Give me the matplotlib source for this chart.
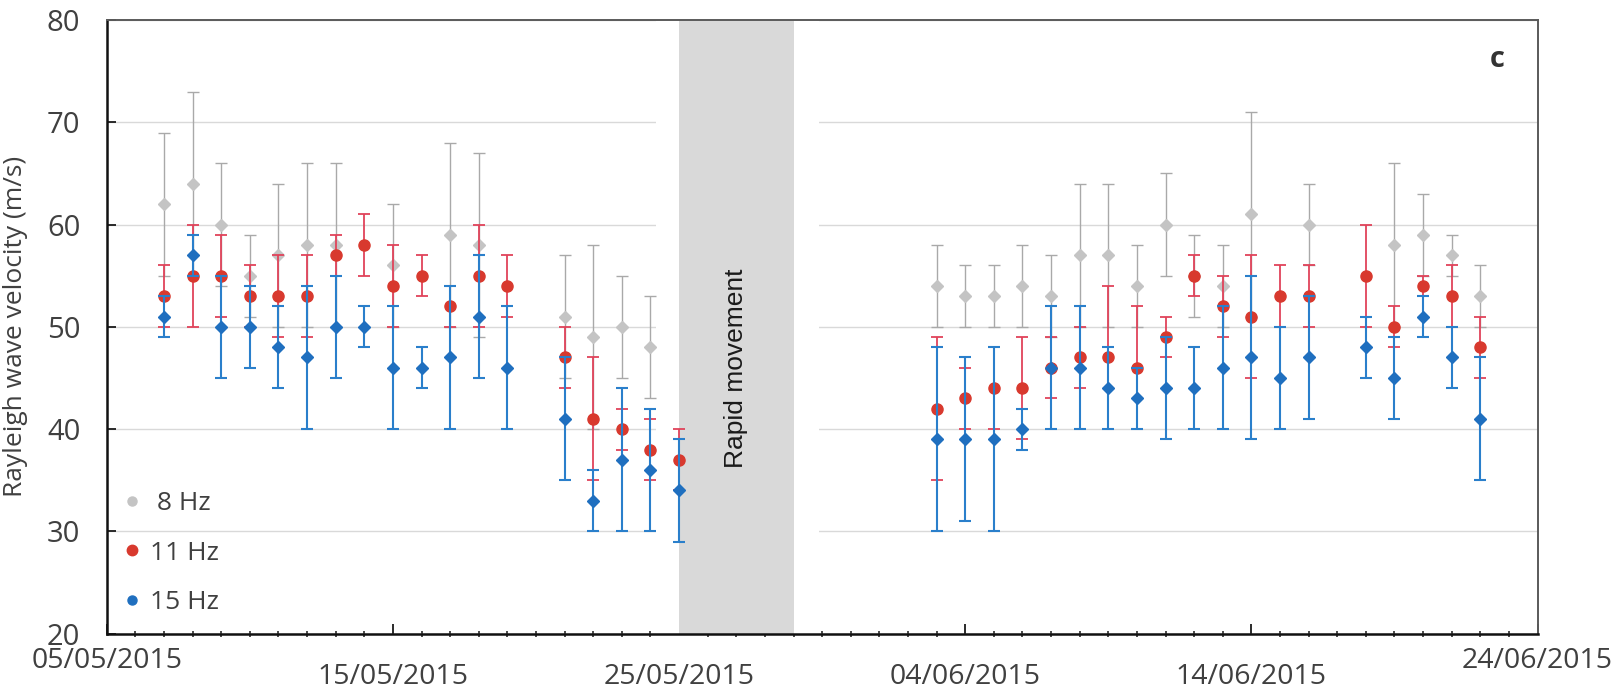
"""Rayleigh wave velocity per day for three frequencies, with the rapid-movement gap."""

import numpy as np
import pandas as pd
import matplotlib
matplotlib.use('Agg')
import matplotlib.pyplot as plt
import matplotlib.dates as mdates
from matplotlib.lines import Line2D
from matplotlib.transforms import blended_transform_factory

plt.rcParams.update({
    'font.family': ['Open Sans', 'DejaVu Sans'],
    'font.size': 19,
})

nan = np.nan

DATES = [
    '07/05/2015', '08/05/2015', '09/05/2015', '10/05/2015', '11/05/2015',
    '12/05/2015', '13/05/2015', '14/05/2015', '15/05/2015', '16/05/2015',
    '17/05/2015', '18/05/2015', '19/05/2015',
    '21/05/2015', '22/05/2015', '23/05/2015', '24/05/2015', '25/05/2015',
    '03/06/2015', '04/06/2015', '05/06/2015', '06/06/2015', '07/06/2015',
    '08/06/2015', '09/06/2015', '10/06/2015', '11/06/2015', '12/06/2015',
    '13/06/2015', '14/06/2015', '15/06/2015', '16/06/2015',
    '18/06/2015', '19/06/2015', '20/06/2015', '21/06/2015', '22/06/2015',
]

# 8 Hz
V8 = [62, 64, 60, 55, 57, 58, 58, nan, 56, nan, 59, 58, nan,
      51, 49, 50, 48, nan,
      54, 53, 53, 54, 53, 57, 57, 54, 60, 55, 54, 61, nan, 60,
      nan, 58, 59, 57, 53]
E8 = [7, 9, 6, 4, 7, 8, 8, nan, 6, nan, 9, 9, nan,
      6, 9, 5, 5, nan,
      4, 3, 3, 4, 4, 7, 7, 4, 5, 4, 4, 10, nan, 4,
      nan, 8, 4, 2, 3]

# 11 Hz
V11 = [53, 55, 55, 53, 53, 53, 57, 58, 54, 55, 52, 55, 54,
       47, 41, 40, 38, 37,
       42, 43, 44, 44, 46, 47, 47, 46, 49, 55, 52, 51, 53, 53,
       55, 50, 54, 53, 48]
E11 = [3, 5, 4, 3, 4, 4, 2, 3, 4, 2, 2, 5, 3,
       3, 6, 2, 3, 3,
       7, 3, 4, 5, 3, 3, 7, 6, 2, 2, 3, 6, 3, 3,
       5, 2, 1, 3, 3]

# 15 Hz
V15 = [51, 57, 50, 50, 48, 47, 50, 50, 46, 46, 47, 51, 46,
       41, 33, 37, 36, 34,
       39, 39, 39, 40, 46, 46, 44, 43, 44, 44, 46, 47, 45, 47,
       48, 45, 51, 47, 41]
E15 = [2, 2, 5, 4, 4, 7, 5, 2, 6, 2, 7, 6, 6,
       6, 3, 7, 6, 5,
       9, 8, 9, 2, 6, 6, 4, 3, 5, 4, 6, 8, 5, 6,
       3, 4, 2, 3, 6]

BAND_START = '25/05/2015'
BAND_END = '29/05/2015'
X_START = '05/05/2015'
X_END = '24/06/2015'
Y_TICKS = [20, 30, 40, 50, 60, 70, 80]

TEXT_COLOR = '#404040'


def to_dt(s):
    return pd.to_datetime(s, format='%d/%m/%Y')


def main():
    x = to_dt(pd.Series(DATES)).dt.to_pydatetime()

    fig = plt.figure(figsize=(16.2, 6.93), dpi=100)
    ax = fig.add_axes([0.0659, 0.0857, 0.8832, 0.8854])

    b0, b1 = to_dt(BAND_START), to_dt(BAND_END)
    # white margin that cuts the gridlines around the shaded band
    ax.axvspan(b0 - pd.Timedelta(hours=19), b1 + pd.Timedelta(hours=21),
               color='white', lw=0, zorder=0.8)
    ax.axvspan(b0, b1, color='#d9d9d9', lw=0, zorder=0.9)
    trans = blended_transform_factory(ax.transData, ax.transAxes)
    ax.text(mdates.date2num(b0 + (b1 - b0) / 2), 0.432, 'Rapid movement',
            transform=trans, rotation=90, ha='center', va='center',
            fontsize=19, family='Liberation Sans', color='#1a1a1a',
            zorder=1)

    series = [
        (V8, E8, 'D', 6.2, '#c4c4c4', '#a9a9a9', '#a0a0a0', 1.0),
        (V11, E11, 'o', 8.0, '#d8392e', '#e0435a', '#e0435a', 1.3),
        (V15, E15, 'D', 6.2, '#1f6fbf', '#2a7fcb', '#2e6089', 1.5),
    ]
    for i, (v, e, mk, ms, mc, ec, cc, lw) in enumerate(series):
        _, caps, _ = ax.errorbar(x, v, yerr=e, fmt=mk, ms=ms, color=mc,
                                 mec=mc, ecolor=ec, elinewidth=lw,
                                 capsize=4, capthick=lw, zorder=3 + i)
        for c in caps:
            c.set_color(cc)

    ax.set_xlim(to_dt(X_START), to_dt(X_END))
    ax.set_ylim(20, 80)
    ax.set_yticks(Y_TICKS)

    major = pd.date_range(to_dt(X_START), to_dt(X_END), freq='10D')
    minor = pd.date_range(to_dt(X_START), to_dt(X_END), freq='1D')
    ax.set_xticks(major.to_pydatetime())
    ax.set_xticks(minor.to_pydatetime(), minor=True)
    ax.xaxis.set_major_formatter(mdates.DateFormatter('%d/%m/%Y'))

    ax.tick_params(axis='x', which='major', direction='in', length=7,
                   width=1.3, color='#1a1a1a', labelsize=20.5,
                   labelcolor=TEXT_COLOR)
    ax.tick_params(axis='x', which='minor', direction='inout', length=5,
                   width=1.1, color='#1a1a1a')
    ax.tick_params(axis='y', which='major', direction='in', length=6.5,
                   width=1.3, color='#1a1a1a', pad=19, labelsize=21,
                   labelcolor=TEXT_COLOR)

    # end labels sit higher than the inner ones
    ticks = ax.xaxis.get_major_ticks()
    for i, t in enumerate(ticks):
        t.set_pad(10 if i in (0, len(ticks) - 1) else 21)

    ax.set_axisbelow(True)
    ax.yaxis.grid(True, color='#d9d9d9', lw=1.0)

    for side in ('left', 'bottom'):
        ax.spines[side].set_color('#111111')
        ax.spines[side].set_linewidth(1.8)
    for side in ('top', 'right'):
        ax.spines[side].set_color('#5a5a5a')
        ax.spines[side].set_linewidth(1.4)

    ax.set_ylabel('Rayleigh wave velocity (m/s)', fontsize=19,
                  color=TEXT_COLOR)
    ax.yaxis.set_label_coords(-0.055, 0.5)

    ax.text(0.972, 0.935, 'c', transform=ax.transAxes, ha='center',
            va='center', fontsize=21, fontweight='bold', color='#333333')

    handles = [
        Line2D([], [], ls='none', marker='o', ms=6.5, color='#c4c4c4'),
        Line2D([], [], ls='none', marker='o', ms=7.5, color='#d8392e'),
        Line2D([], [], ls='none', marker='o', ms=6.5, color='#1f6fbf'),
    ]
    ax.legend(handles, [' 8 Hz', '11 Hz', '15 Hz'], loc='center left',
              bbox_to_anchor=(0.0122, 0.131), frameon=False, fontsize=19,
              handlelength=0.6, handletextpad=0.38, labelspacing=0.92,
              borderpad=0, borderaxespad=0, labelcolor=TEXT_COLOR)

    fig.savefig('out.png', dpi=100)
    plt.close(fig)


if __name__ == '__main__':
    main()
